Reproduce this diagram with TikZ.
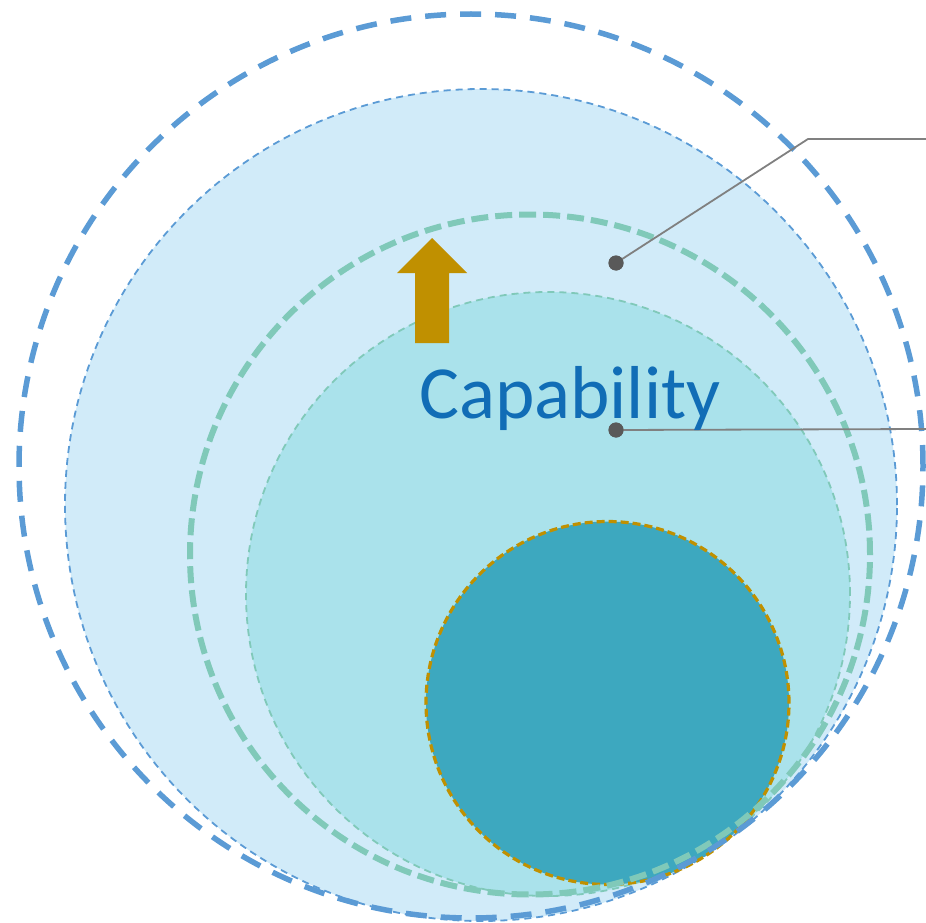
\documentclass[tikz,border=0pt]{standalone}
\usepackage{fontspec}
\setmainfont{Carlito}
\usetikzlibrary{shapes.geometric}
\definecolor{outerblue}{HTML}{5B9BD5}
\definecolor{lightfill}{HTML}{D1EBF9}
\definecolor{greendash}{HTML}{80C9B9}
\definecolor{tealfill}{HTML}{AAE2EB}
\definecolor{darkteal}{HTML}{3DA8BF}
\definecolor{gold}{HTML}{C09000}
\definecolor{textblue}{HTML}{116DB6}
\definecolor{leader}{HTML}{808080}
\definecolor{dotgray}{HTML}{595959}
\tikzset{
  ring/.style={circle, inner sep=0pt, minimum size=#1},
  outerring/.style={draw=outerblue, line width=5.5pt, dash pattern=on 21pt off 14pt},
  lightdisc/.style={fill=lightfill, draw=outerblue, line width=1.8pt, dash pattern=on 7pt off 5pt},
  greenring/.style={draw=greendash, line width=6pt, dash pattern=on 17pt off 7pt},
  tealdisc/.style={fill=tealfill, draw=greendash, line width=1.8pt, dash pattern=on 7pt off 5pt},
  darkdisc/.style={fill=darkteal, draw=gold, line width=3.2pt, dash pattern=on 8pt off 4pt},
  leaderline/.style={draw=leader, line width=1.8pt},
  leaderdot/.style={circle, fill=dotgray, inner sep=0pt, minimum size=15pt},
  labeltext/.style={text=textblue, font=\fontsize{75}{80}\selectfont, inner sep=0pt}
}
\begin{document}
\begin{tikzpicture}[x=1pt,y=-1pt]
\useasboundingbox (0,0) rectangle (926,923);
% discs and rings
\node[ring=832pt, lightdisc] (light) at (481,505) {};
\node[ring=604pt, tealdisc] (teal) at (548,594) {};
\node[ring=363pt, darkdisc] (dark) at (607.5,703) {};
\node[ring=680pt, greenring] (green) at (530,554.5) {};
\node[ring=904pt, outerring] (outer) at (471,466) {};
% arrow
\fill[gold] (415,343) -- (415,273) -- (397,273) -- (432,238) -- (467,273) -- (449,273) -- (449,343) -- cycle;
% leader lines
\node[leaderdot] (d1) at (616,263) {};
\node[leaderdot] (d2) at (616,430) {};
\coordinate (k1) at (808,139);
\coordinate (e1) at (926,139);
\coordinate (e2) at (926,429);
\draw[leaderline] (d1.center) -- (k1) -- (e1);
\draw[leaderline] (d2.center) -- (e2);
\node[leaderdot] at (d1) {};
\node[leaderdot] at (d2) {};
% text
\node[labeltext, anchor=base west] (cap) at (419,418) {Capability};
\end{tikzpicture}
\end{document}
